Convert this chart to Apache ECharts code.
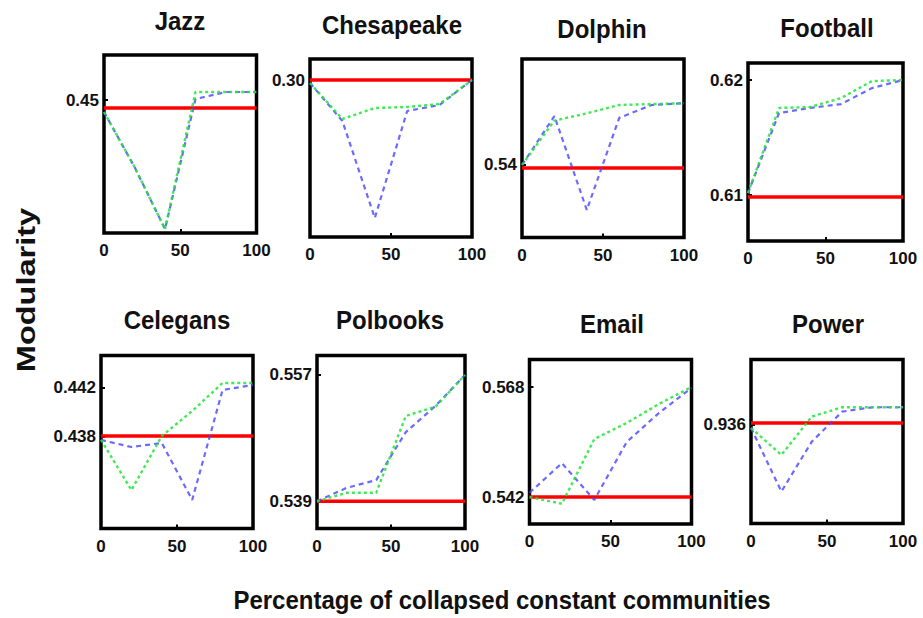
<!DOCTYPE html>
<html>
<head>
<meta charset="utf-8">
<script src="https://cdn.jsdelivr.net/npm/echarts@6/dist/echarts.min.js"></script>
<style>
  html, body { margin: 0; padding: 0; background: #ffffff; }
  #chart { width: 923px; height: 618px; }
</style>
</head>
<body>
<div id="chart"></div>
<script>
// Percentage of collapsed constant communities (x axis of every panel)
const xPercent = [0, 20, 40, 60, 80, 100];
const xTickLabels = [0, 50, 100];

const networkNames = ['Jazz', 'Chesapeake', 'Dolphin', 'Football',
                      'Celegans', 'Polbooks', 'Email', 'Power'];

// Modularity per network: baseline (solid red), dotted (green), dashed (blue)
const jazzBaseline = 0.44938;
const jazzDotted   = [0.44907, 0.44481, 0.44000, 0.45062, 0.45062, 0.45062];
const jazzDashed   = [0.44907, 0.44481, 0.44000, 0.45008, 0.45062, 0.45062];
const jazzTicks    = ['0.45'];

const chesapeakeBaseline = 0.3000;
const chesapeakeDotted   = [0.2985, 0.2805, 0.2860, 0.2865, 0.2880, 0.3000];
const chesapeakeDashed   = [0.2985, 0.2795, 0.2310, 0.2845, 0.2875, 0.3000];
const chesapeakeTicks    = ['0.30'];

const dolphinBaseline = 0.5390;
const dolphinDotted   = [0.5400, 0.5548, 0.5572, 0.5600, 0.5603, 0.5606];
const dolphinDashed   = [0.5400, 0.5563, 0.5250, 0.5557, 0.5600, 0.5606];
const dolphinTicks    = ['0.54'];

const footballBaseline = 0.60983;
const footballDotted   = [0.61017, 0.61757, 0.61765, 0.61843, 0.61991, 0.62000];
const footballDashed   = [0.61017, 0.61713, 0.61757, 0.61791, 0.61930, 0.62000];
const footballTicks    = ['0.61', '0.62'];

const celegansBaseline = 0.43808;
const celegansDotted   = [0.43776, 0.43367, 0.43808, 0.44012, 0.44241, 0.44241];
const celegansDashed   = [0.43776, 0.43718, 0.43751, 0.43286, 0.44184, 0.44224];
const celegansTicks    = ['0.438', '0.442'];

const polbooksBaseline = 0.5391;
const polbooksDotted   = [0.5391, 0.5403, 0.5403, 0.5512, 0.5525, 0.5570];
const polbooksDashed   = [0.5391, 0.5410, 0.5421, 0.5489, 0.5526, 0.5570];
const polbooksTicks    = ['0.539', '0.557'];

const emailBaseline = 0.5420;
const emailDotted   = [0.5420, 0.5404, 0.5557, 0.5595, 0.5640, 0.5680];
const emailDashed   = [0.5430, 0.5500, 0.5413, 0.5550, 0.5619, 0.5678];
const emailTicks    = ['0.542', '0.568'];

const powerBaseline = 0.93650;
const powerDotted   = [0.93525, 0.92850, 0.93808, 0.94043, 0.94043, 0.94043];
const powerDashed   = [0.93525, 0.91933, 0.93183, 0.93933, 0.94043, 0.94043];
const powerTicks    = ['0.936'];

const baselines = [jazzBaseline, chesapeakeBaseline, dolphinBaseline, footballBaseline,
                   celegansBaseline, polbooksBaseline, emailBaseline, powerBaseline];
const dottedSeries = [jazzDotted, chesapeakeDotted, dolphinDotted, footballDotted,
                      celegansDotted, polbooksDotted, emailDotted, powerDotted];
const dashedSeries = [jazzDashed, chesapeakeDashed, dolphinDashed, footballDashed,
                      celegansDashed, polbooksDashed, emailDashed, powerDashed];
const yTicks = [jazzTicks, chesapeakeTicks, dolphinTicks, footballTicks,
                celegansTicks, polbooksTicks, emailTicks, powerTicks];

// Panel boxes (pixels) and value ranges of each y axis
const panels = [
  { left: 104,   top: 55,    width: 152.5, height: 178,   yMin: 0.43969, yMax: 0.45349, tx: 180, ty: 21 },
  { left: 310,   top: 59,    width: 162,   height: 178,   yMin: 0.2215,  yMax: 0.3105,  tx: 392, ty: 25 },
  { left: 522,   top: 59,    width: 162,   height: 178.5, yMin: 0.51583, yMax: 0.57533, tx: 602, ty: 29 },
  { left: 748,   top: 63,    width: 155,   height: 178,   yMin: 0.60600, yMax: 0.62148, tx: 827, ty: 28 },
  { left: 101,   top: 355.5, width: 152,   height: 173,   yMin: 0.43053, yMax: 0.44465, tx: 177, ty: 320 },
  { left: 317,   top: 355.5, width: 148,   height: 173,   yMin: 0.53524, yMax: 0.55976, tx: 390, ty: 320 },
  { left: 529.5, top: 359.5, width: 162,   height: 164.5, yMin: 0.53562, yMax: 0.57450, tx: 612, ty: 324 },
  { left: 751,   top: 359.5, width: 152,   height: 164,   yMin: 0.91133, yMax: 0.95238, tx: 828, ty: 324 }
];

const FONT = '"Liberation Sans", Arial, Helvetica, sans-serif';
const INK = '#111111';

const grids = [], xAxes = [], yAxes = [], series = [], texts = [];

panels.forEach((p, i) => {
  grids.push({
    left: p.left, top: p.top, width: p.width, height: p.height,
    show: true, borderColor: '#000000', borderWidth: 3.5,
    backgroundColor: '#ffffff', containLabel: false, outerBoundsMode: 'none'
  });
  xAxes.push({
    type: 'value', gridIndex: i, min: 0, max: 100, interval: 50,
    axisLine: { show: false },
    axisTick: { show: true, inside: true, length: 4, lineStyle: { color: '#000', width: 2 } },
    splitLine: { show: false },
    axisLabel: {
      show: true, margin: 9, color: INK, fontFamily: FONT, fontSize: 17, fontWeight: 'bold',
      customValues: xTickLabels
    }
  });
  const labels = yTicks[i];
  yAxes.push({
    type: 'value', gridIndex: i, min: p.yMin, max: p.yMax,
    axisLine: { show: false },
    splitLine: { show: false },
    axisTick: { show: true, inside: true, length: 4, lineStyle: { color: '#000', width: 2 },
                customValues: labels.map(Number) },
    axisLabel: {
      show: true, margin: 5, color: INK, fontFamily: FONT, fontSize: 17, fontWeight: 'bold',
      customValues: labels.map(Number),
      formatter: v => labels.find(s => Math.abs(Number(s) - v) < 1e-9) || ''
    }
  });
  series.push({
    type: 'line', xAxisIndex: i, yAxisIndex: i, symbol: 'none', silent: true,
    data: [[xPercent[0], baselines[i]], [xPercent[xPercent.length - 1], baselines[i]]],
    lineStyle: { color: '#ff0000', width: 3.5, type: 'solid' }, z: 3
  });
  series.push({
    type: 'line', xAxisIndex: i, yAxisIndex: i, symbol: 'none', silent: true,
    data: xPercent.map((x, k) => [x, dashedSeries[i][k]]),
    lineStyle: { color: '#4646ff', width: 2.2, type: [5, 4], opacity: 0.8 }, z: 4
  });
  series.push({
    type: 'line', xAxisIndex: i, yAxisIndex: i, symbol: 'none', silent: true,
    data: xPercent.map((x, k) => [x, dottedSeries[i][k]]),
    lineStyle: { color: '#1ee636', width: 2.4, type: [3, 3], opacity: 0.85 }, z: 5
  });
  texts.push({
    type: 'text', x: p.tx, y: p.ty, scaleY: 1.1, z: 10,
    style: { text: networkNames[i], fill: INK, font: 'bold 24px ' + FONT, align: 'center', verticalAlign: 'middle' }
  });
});

// Shared axis titles
texts.push({
  type: 'text', x: 26, y: 290, rotation: Math.PI / 2, scaleX: 1.3, scaleY: 1.05, z: 10,
  style: { text: 'Modularity', fill: INK, font: 'bold 25px ' + FONT, align: 'center', verticalAlign: 'middle' }
});
texts.push({
  type: 'text', x: 502, y: 600, scaleY: 1.1, z: 10,
  style: { text: 'Percentage of collapsed constant communities', fill: INK, font: 'bold 24px ' + FONT,
           align: 'center', verticalAlign: 'middle' }
});

const chart = echarts.init(document.getElementById('chart'), null, { renderer: 'svg' });
chart.setOption({
  animation: false,
  backgroundColor: '#ffffff',
  grid: grids,
  xAxis: xAxes,
  yAxis: yAxes,
  series: series,
  graphic: texts
});
</script>
</body>
</html>
